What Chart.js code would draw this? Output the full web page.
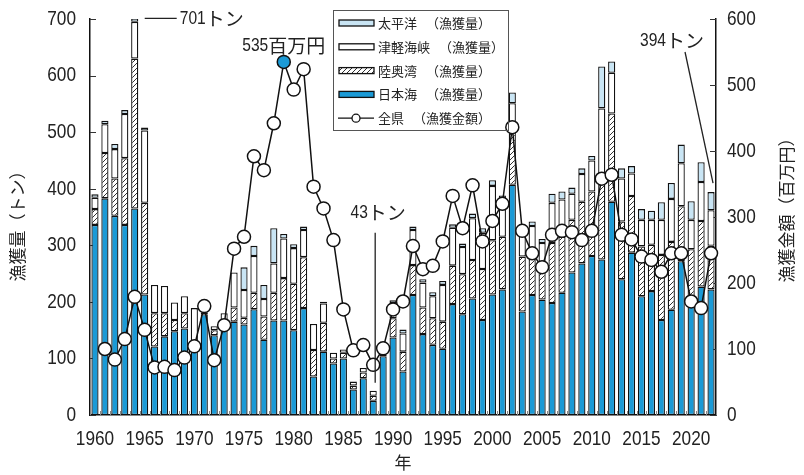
<!DOCTYPE html>
<html>
<head>
<meta charset="utf-8">
<script src="https://cdn.jsdelivr.net/npm/chart.js@4/dist/chart.umd.min.js"></script>
<style>
  html, body { margin: 0; padding: 0; background: #fff; }
  #wrap { width: 804px; height: 475px; }
</style>
</head>
<body>
<div id="wrap"><canvas id="myChart" width="804" height="475"></canvas></div>
<script>
// years 1960-2022
let years = [];
for (let y = 1960; y <= 2022; y++) years.push(y);

// catch (t) by area
let nihonkai = [336,383,352,336,365,213,121,139,148,153, 115,178,141,150,165,160,187,133,167,167,
  150,189,68,112,91,100,45,65,25,104, 137,77,212,143,124,117,196,178,206,168,
  213,222,407,183,212,204,198,216,252,268, 281,275,377,240,287,210,219,168,186,272,
  200,227,222];
let mutsu = [28,80,66,118,265,162,59,41,20,27, 4,3,9,12,25,12,29,41,49,75,
  82,90,47,51,9,10,7,10,9,3, 34,35,53,47,47,48,68,71,68,90,
  96,93,100,97,65,55,106,99,93,109, 114,146,156,102,100,88,82,115,120,97,
  93,116,77];
let tsugaru = [20,51,52,78,65,128,50,48,31,30, 70,3,7,18,62,49,65,31,52,70,
  63,48,46,34,10,6,7,8,9,3, 27,32,62,44,39,65,67,48,74,64,
  96,68,44,47,57,45,71,66,46,49, 55,121,72,76,40,47,44,62,76,76,
  52,69,63];
let taiheiyo = [6,6,9,7,6,5,0,0,0,0, 0,0,0,0,0,40,18,25,62,8,
  7,6,0,3,0,0,0,0,0,0, 5,7,6,6,7,7,6,6,8,8,
  10,5,19,3,8,7,16,14,11,10, 8,74,20,18,13,19,16,31,28,33,
  33,35,32];
// catch value, whole prefecture (million yen), no value for 1960
let kingaku = [null,100,84,115,179,129,72,73,68,87, 104,165,83,136,252,270,392,371,442,535,
  493,524,346,313,265,160,98,106,76,101, 160,172,256,221,226,263,332,283,348,263,
  294,320,436,279,245,224,273,279,277,265, 279,358,364,273,266,240,235,217,245,245,
  172,162,245];

let leftTicks = [0,100,200,300,400,500,600,700];
let rightTicks = [0,100,200,300,400,500,600];
let yearLabels = years.filter(y => y % 5 === 0);

const BLUE = '#1b9ad6';
const LIGHT = '#c9e5f4';
const numFont = "'Liberation Sans', Arial, sans-serif";
const jpFont = "'Noto Sans CJK JP', sans-serif";
const SX = 0.82; // squeeze for the narrow digits

function makeHatch() {
  let c = document.createElement('canvas');
  c.width = 5; c.height = 5;
  let g = c.getContext('2d');
  g.fillStyle = '#fff';
  g.fillRect(0, 0, 5, 5);
  g.strokeStyle = '#333';
  g.lineWidth = 1;
  g.beginPath();
  g.moveTo(0, 5); g.lineTo(5, 0);
  g.moveTo(-1, 1); g.lineTo(1, -1);
  g.moveTo(4, 6); g.lineTo(6, 4);
  g.stroke();
  return g.createPattern(c, 'repeat');
}
const hatch = makeHatch();

let pointFill = years.map(y => y === 1979 ? BLUE : '#fff');

// text with narrow digits and normal kana/kanji
function drawText(ctx, str, x, y, align, size) {
  let runs = str.match(/[\x00-\x7f]+|[^\x00-\x7f]+/g);
  let parts = runs.map(r => {
    let ascii = /^[\x00-\x7f]+$/.test(r);
    ctx.font = size + 'px ' + (ascii ? numFont : jpFont);
    let w = ctx.measureText(r).width * (ascii ? SX : 1);
    return {r, ascii, w};
  });
  let total = parts.reduce((s, p) => s + p.w, 0);
  let cx = align === 'center' ? x - total / 2 : align === 'right' ? x - total : x;
  ctx.textAlign = 'left';
  ctx.textBaseline = 'middle';
  parts.forEach(p => {
    ctx.font = size + 'px ' + (p.ascii ? numFont : jpFont);
    ctx.save();
    ctx.translate(cx, y);
    if (p.ascii) ctx.scale(SX, 1);
    ctx.fillText(p.r, 0, 0);
    ctx.restore();
    cx += p.w;
  });
}

// inward ticks, labels, titles, legend and notes
const extras = {
  id: 'extras',
  beforeDatasetsDraw(chart) {
    const {ctx, chartArea: a, scales} = chart;
    ctx.save();
    ctx.strokeStyle = '#333';
    ctx.lineWidth = 1;
    ctx.beginPath();
    leftTicks.forEach(v => {
      let y = Math.round(scales.y.getPixelForValue(v)) + 0.5;
      ctx.moveTo(a.left, y); ctx.lineTo(a.left + 6, y);
    });
    rightTicks.forEach(v => {
      let y = Math.round(scales.y2.getPixelForValue(v)) + 0.5;
      ctx.moveTo(a.right, y); ctx.lineTo(a.right - 6, y);
    });
    ctx.stroke();
    ctx.strokeStyle = '#888';
    ctx.beginPath();
    let half = (scales.x.getPixelForValue(1) - scales.x.getPixelForValue(0)) / 2;
    for (let i = 0; i <= years.length; i++) {
      let x = Math.round(scales.x.getPixelForValue(i) - half) + 0.5;
      ctx.moveTo(x, a.bottom); ctx.lineTo(x, a.bottom - 4);
    }
    ctx.stroke();
    ctx.restore();
  },
  afterDraw(chart) {
    const {ctx, chartArea: a, scales} = chart;
    const xs = scales.x, ys = scales.y, y2 = scales.y2;
    ctx.save();
    ctx.fillStyle = '#222';

    // tick labels
    leftTicks.forEach(v => drawText(ctx, String(v), a.left - 14, ys.getPixelForValue(v), 'right', 21));
    rightTicks.forEach(v => drawText(ctx, String(v), a.right + 11, y2.getPixelForValue(v), 'left', 21));
    yearLabels.forEach(yr => drawText(ctx, String(yr), xs.getPixelForValue(years.indexOf(yr)), a.bottom + 24, 'center', 21));

    // axis titles
    ctx.font = '17px ' + jpFont;
    ctx.textAlign = 'center';
    ctx.textBaseline = 'middle';
    ctx.save(); ctx.translate(18, 222); ctx.rotate(-Math.PI / 2);
    ctx.fillText('漁獲量（トン）', 0, 0); ctx.restore();
    ctx.save(); ctx.translate(787, 206); ctx.rotate(-Math.PI / 2);
    ctx.fillText('漁獲金額（百万円）', 0, 0); ctx.restore();
    ctx.fillText('年', 403, 463);

    // notes
    ctx.strokeStyle = '#222';
    ctx.lineWidth = 1.3;
    let x64 = xs.getPixelForValue(4), t64 = ys.getPixelForValue(701);
    ctx.beginPath(); ctx.moveTo(x64 + 10, t64); ctx.lineTo(x64 + 42, t64); ctx.stroke();
    drawText(ctx, '701トン', x64 + 45, t64, 'left', 19);

    drawText(ctx, '535百万円', xs.getPixelForValue(19), y2.getPixelForValue(535) - 16, 'center', 19);

    let x88 = xs.getPixelForValue(28);
    ctx.beginPath(); ctx.moveTo(x88 + 2, ys.getPixelForValue(43) - 8); ctx.lineTo(x88 + 2, ys.getPixelForValue(322)); ctx.stroke();
    drawText(ctx, '43トン', x88 + 5, ys.getPixelForValue(357), 'center', 19);

    let x22 = xs.getPixelForValue(62), t22 = ys.getPixelForValue(394);
    ctx.beginPath(); ctx.moveTo(x22 + 2, t22 - 9); ctx.lineTo(x22 - 26, 52); ctx.stroke();
    drawText(ctx, '394トン', x22 - 39, 41, 'center', 19);

    // legend
    ctx.lineWidth = 1;
    ctx.strokeStyle = '#555';
    ctx.strokeRect(333.5, 10.5, 175, 120);
    let rows = [
      ['太平洋', '（漁獲量）', LIGHT],
      ['津軽海峡', '（漁獲量）', '#fff'],
      ['陸奥湾', '（漁獲量）', hatch],
      ['日本海', '（漁獲量）', BLUE],
      ['全県', '（漁獲金額）', null]
    ];
    ctx.font = '13px ' + jpFont;
    ctx.textAlign = 'left';
    ctx.textBaseline = 'middle';
    rows.forEach((r, i) => {
      let cy = 23 + i * 23.8;
      ctx.strokeStyle = '#111';
      ctx.lineWidth = 1.3;
      if (r[2]) {
        ctx.fillStyle = r[2];
        ctx.fillRect(339, cy - 3, 35, 6);
        ctx.strokeRect(339, cy - 3, 35, 6);
      } else {
        ctx.beginPath(); ctx.moveTo(338, cy); ctx.lineTo(374, cy); ctx.stroke();
        ctx.beginPath(); ctx.arc(356, cy, 4, 0, Math.PI * 2);
        ctx.fillStyle = '#fff'; ctx.fill(); ctx.stroke();
      }
      ctx.fillStyle = '#222';
      ctx.fillText(r[0], 378, cy);
      ctx.fillText(r[1], 378 + r[0].length * 13 + 9, cy);
    });
    ctx.restore();
  }
};

const barBase = {
  type: 'bar',
  yAxisID: 'y',
  borderColor: '#111',
  borderWidth: 1.3,
  borderSkipped: false,
  barPercentage: 0.72,
  categoryPercentage: 1,
  order: 1
};

let myChart = new Chart(document.getElementById('myChart').getContext('2d'), {
  data: {
    labels: years,
    datasets: [
      Object.assign({label: '日本海', data: nihonkai, backgroundColor: BLUE}, barBase),
      Object.assign({label: '陸奥湾', data: mutsu, backgroundColor: hatch}, barBase),
      Object.assign({label: '津軽海峡', data: tsugaru, backgroundColor: '#fff'}, barBase),
      Object.assign({label: '太平洋', data: taiheiyo, backgroundColor: LIGHT}, barBase),
      {
        type: 'line',
        label: '全県',
        data: kingaku,
        yAxisID: 'y2',
        borderColor: '#111',
        borderWidth: 1.5,
        pointRadius: 6.5,
        pointBorderWidth: 1.5,
        pointBorderColor: '#111',
        pointBackgroundColor: pointFill,
        tension: 0,
        order: 0
      }
    ]
  },
  options: {
    responsive: false,
    animation: false,
    layout: {padding: {top: 19, left: 0, right: 0, bottom: 0}},
    plugins: {legend: {display: false}, tooltip: {enabled: false}},
    scales: {
      x: {
        stacked: true,
        grid: {display: false},
        border: {display: true, color: '#111', width: 1.5},
        ticks: {display: false},
        afterFit: s => { s.height = 60; }
      },
      y: {
        stacked: true,
        position: 'left',
        min: 0, max: 700,
        grid: {display: false, drawTicks: false},
        border: {display: true, color: '#111', width: 1.5},
        ticks: {display: false, stepSize: 100},
        afterFit: s => { s.width = 90; }
      },
      y2: {
        position: 'right',
        min: 0, max: 600,
        grid: {display: false, drawTicks: false},
        border: {display: true, color: '#111', width: 1.5},
        ticks: {display: false, stepSize: 100},
        afterFit: s => { s.width = 88; }
      }
    }
  },
  plugins: [extras]
});
</script>
</body>
</html>
